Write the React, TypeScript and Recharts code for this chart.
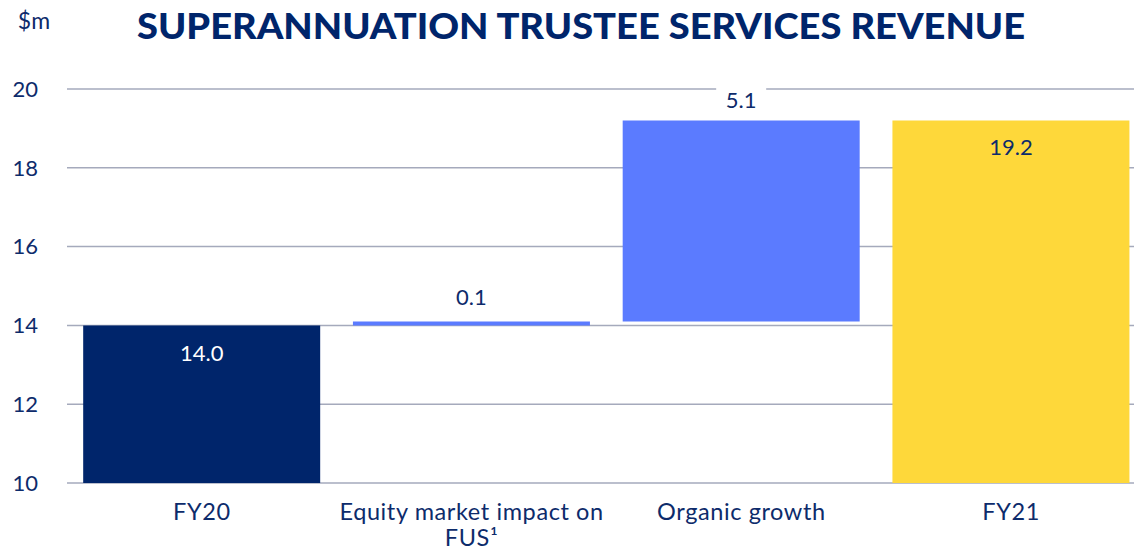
import React from 'react';
import { ComposedChart, Bar, XAxis, YAxis, CartesianGrid, Cell, LabelList } from 'recharts';

const categories = ['FY20', 'Equity market impact on FUS¹', 'Organic growth', 'FY21'];
const tickLines = [['FY20'], ['Equity market impact on', 'FUS¹'], ['Organic growth'], ['FY21']];
const values = [14.0, 0.1, 5.1, 19.2];
const kinds = ['total', 'delta', 'delta', 'total'];
const valueLabels = ['14.0', '0.1', '5.1', '19.2'];
const colors = ['#00256B', '#5B7BFF', '#5B7BFF', '#FED83A'];
const yTicks = [10, 12, 14, 16, 18, 20];
const Y_MIN = 10;
const Y_MAX = 20;

const NAVY = '#0D2B6B';
const FONT = 'Lato, "Open Sans", sans-serif';

const buildData = () => {
  let running = 0;
  return categories.map((c, i) => {
    let range: [number, number];
    if (kinds[i] === 'total') {
      range = [Y_MIN, values[i]];
      running = values[i];
    } else {
      range = [running, running + values[i]];
      running = running + values[i];
    }
    return { name: c, range, idx: i };
  });
};
const data = buildData();

const XTick = (props: any) => {
  const { x, y, index } = props;
  const lines = tickLines[index] || [];
  return (
    <g>
      {lines.map((l: string, k: number) => (
        <text key={k} x={x} y={y + 20 + k * 26} textAnchor="middle" dominantBaseline="central" fill={NAVY} fontSize={23.5} letterSpacing={0.6} fontFamily={FONT}>{l}</text>
      ))}
    </g>
  );
};

const ValueLabel = (props: any) => {
  const { x, y, width, height, index } = props;
  const top = Math.min(y, y + height);
  const cx = x + width / 2;
  const txt = valueLabels[index];
  if (index === 0) {
    return <text x={cx} y={top + 27} textAnchor="middle" dominantBaseline="central" fill="#FFFFFF" fontSize={22} fontFamily={FONT}>{txt}</text>;
  }
  if (index === 3) {
    return <text x={cx} y={top + 26} textAnchor="middle" dominantBaseline="central" fill={NAVY} fontSize={22} fontFamily={FONT}>{txt}</text>;
  }
  const cy = index === 2 ? top - 21 : top - 25;
  return (
    <g>
      <rect x={cx - 25} y={cy - 14} width={50} height={28} fill="#FFFFFF" />
      <text x={cx} y={cy} textAnchor="middle" dominantBaseline="central" fill={NAVY} fontSize={22} fontFamily={FONT}>{txt}</text>
    </g>
  );
};

export default function App() {
  return (
    <div style={{ position: 'absolute', left: 0, top: 0, width: 1134, height: 551, overflow: 'hidden', background: '#FFFFFF' }}>
      <svg width={1134} height={60} style={{ position: 'absolute', left: 0, top: 0 }}>
        <text x={34} y={20} textAnchor="middle" dominantBaseline="central" fill={NAVY} fontSize={23} fontFamily={FONT}>$m</text>
        <text x={581} y={25} textAnchor="middle" dominantBaseline="central" fill="#00256B" fontSize={36} fontWeight={900} fontFamily={FONT} textLength={888} lengthAdjust="spacingAndGlyphs">SUPERANNUATION TRUSTEE SERVICES REVENUE</text>
      </svg>
      <div style={{ position: 'absolute', left: 0, top: 0 }}>
        <ComposedChart width={1146} height={551} data={data} margin={{ top: 89, right: 0, bottom: 8, left: 0 }} barCategoryGap="6%">
          <CartesianGrid vertical={false} stroke="#A5AABC" strokeWidth={1.5} />
          <XAxis dataKey="name" axisLine={false} tickLine={false} height={60} interval={0} tick={<XTick />} />
          <YAxis type="number" domain={[Y_MIN, Y_MAX]} ticks={yTicks} allowDataOverflow width={67} axisLine={false} tickLine={false} tickMargin={23} tick={{ fill: NAVY, fontSize: 22, fontFamily: FONT }} />
          <Bar dataKey="range" isAnimationActive={false}>
            {data.map((d, i) => (
              <Cell key={i} fill={colors[i]} />
            ))}
            <LabelList dataKey="range" content={<ValueLabel />} />
          </Bar>
        </ComposedChart>
      </div>
    </div>
  );
}
